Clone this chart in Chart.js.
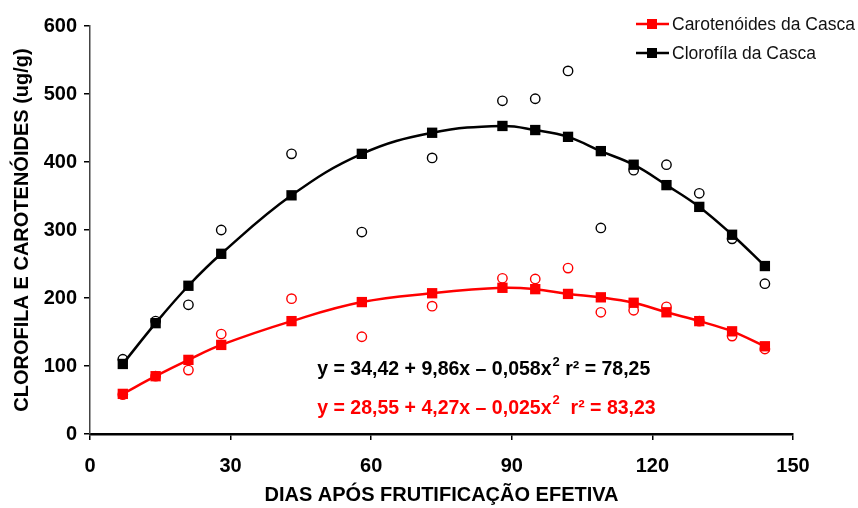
<!DOCTYPE html>
<html>
<head>
<meta charset="utf-8">
<script src="https://cdn.jsdelivr.net/npm/chart.js@4/dist/chart.umd.min.js"></script>
<style>
  html, body { margin: 0; padding: 0; background: #fff; }
  #wrap { width: 858px; height: 508px; }
</style>
</head>
<body>
<div id="wrap"><canvas id="chart"></canvas></div>
<script>
const days = [7, 14, 21, 28, 43, 58, 73, 88, 95, 102, 109, 116, 123, 130, 137, 144];
const chlFit = [103, 163, 218, 265, 351, 412, 443, 453, 447, 437, 416, 396, 366, 334, 293, 247];
const chlObs = [110, 166, 190, 300, 412, 297, 406, 490, 493, 534, 303, 388, 396, 354, 287, 221];
const carFit = [59, 85, 109, 131, 166, 194, 207, 215, 213, 206, 201, 193, 179, 166, 151, 129];
const carObs = [58, 85, 94, 147, 199, 143, 188, 229, 228, 244, 179, 182, 187, 166, 144, 125];
const xTicks = [0, 30, 60, 90, 120, 150];
const yTicks = [0, 100, 200, 300, 400, 500, 600];
const seriesNames = ['Carotenóides da Casca', 'Clorofíla da Casca'];

const FONT = '"Liberation Sans", Arial, sans-serif';
const RED = '#ff0000';
const BLACK = '#000000';

const pts = vals => days.map((d, i) => ({ x: d, y: vals[i] }));

function fitSet(label, vals, color) {
    return {
        label,
        data: pts(vals),
        showLine: true,
        borderColor: color,
        backgroundColor: color,
        borderWidth: 2.5,
        tension: 0.4,
        pointStyle: 'rect',
        pointRadius: 7.3,
        pointBorderWidth: 0,
        pointBackgroundColor: color
    };
}

function obsSet(label, vals, color) {
    return {
        label,
        data: pts(vals),
        showLine: false,
        pointStyle: 'circle',
        pointRadius: 4.7,
        pointBorderWidth: 1.4,
        pointBorderColor: color,
        pointBackgroundColor: 'rgba(0,0,0,0)'
    };
}

// legend in the top right corner
const legendPlugin = {
    id: 'cornerLegend',
    afterDraw(chart) {
        const ctx = chart.ctx;
        const rows = [
            { text: seriesNames[0], color: RED, y: 24 },
            { text: seriesNames[1], color: BLACK, y: 53 }
        ];
        ctx.save();
        rows.forEach(r => {
            ctx.strokeStyle = r.color;
            ctx.lineWidth = 2.5;
            ctx.beginPath();
            ctx.moveTo(636, r.y);
            ctx.lineTo(669, r.y);
            ctx.stroke();
            ctx.fillStyle = r.color;
            ctx.fillRect(647, r.y - 5, 10, 10);
            ctx.fillStyle = '#111';
            ctx.font = '17.5px ' + FONT;
            ctx.textBaseline = 'middle';
            ctx.textAlign = 'left';
            ctx.fillText(r.text, 672, r.y + 1);
        });
        ctx.restore();
    }
};

// regression equations
const equationPlugin = {
    id: 'equations',
    afterDraw(chart) {
        const ctx = chart.ctx;
        const xs = chart.scales.x, ys = chart.scales.y;
        const lines = [
            { parts: ['y = 34,42 + 9,86x \u2013 0,058x', '2', ' r\u00b2 = 78,25'], color: BLACK, v: 94 },
            { parts: ['y = 28,55 + 4,27x \u2013 0,025x', '2', '  r\u00b2 = 83,23'], color: RED, v: 38 }
        ];
        ctx.save();
        ctx.textBaseline = 'middle';
        ctx.textAlign = 'left';
        lines.forEach(l => {
            let x = xs.getPixelForValue(48.5);
            const y = ys.getPixelForValue(l.v);
            ctx.fillStyle = l.color;
            ctx.font = 'bold 19.5px ' + FONT;
            ctx.fillText(l.parts[0], x, y);
            x += ctx.measureText(l.parts[0]).width + 1;
            ctx.font = 'bold 13px ' + FONT;
            ctx.fillText(l.parts[1], x, y - 8);
            x += ctx.measureText(l.parts[1]).width;
            ctx.font = 'bold 19.5px ' + FONT;
            ctx.fillText(l.parts[2], x, y);
        });
        ctx.restore();
    }
};

const axisGrid = { drawOnChartArea: false, drawTicks: true, tickLength: 6, color: BLACK, lineWidth: 1.5 };
const tickFont = { family: FONT, size: 20, weight: 'bold' };
const titleFont = { family: FONT, size: 20, weight: 'bold' };

new Chart(document.getElementById('chart'), {
    type: 'scatter',
    data: {
        datasets: [
            fitSet(seriesNames[0], carFit, RED),
            fitSet(seriesNames[1], chlFit, BLACK),
            obsSet('obs car', carObs, RED),
            obsSet('obs chl', chlObs, BLACK)
        ]
    },
    options: {
        responsive: true,
        maintainAspectRatio: false,
        animation: false,
        devicePixelRatio: 1,
        layout: { padding: { top: 26, right: 65, left: 0, bottom: 0 } },
        plugins: {
            legend: { display: false },
            tooltip: { enabled: false }
        },
        scales: {
            x: {
                type: 'linear',
                min: 0,
                max: 150,
                afterBuildTicks: s => { s.ticks = xTicks.map(v => ({ value: v })); },
                afterFit: s => { s.height = 74; },
                ticks: { color: BLACK, font: tickFont, padding: 14, maxRotation: 0 },
                grid: axisGrid,
                border: { color: BLACK, width: 2.5 },
                title: {
                    display: true,
                    text: 'DIAS APÓS FRUTIFICAÇÃO EFETIVA',
                    color: BLACK,
                    font: titleFont,
                    padding: { top: 0, bottom: 1 }
                }
            },
            y: {
                min: 0,
                max: 600,
                afterBuildTicks: s => { s.ticks = yTicks.map(v => ({ value: v })); },
                afterFit: s => { s.width = 90; },
                ticks: { color: BLACK, font: tickFont, padding: 7 },
                grid: axisGrid,
                border: { color: '#444', width: 1.5 },
                title: {
                    display: true,
                    text: 'CLOROFILA E CAROTENÓIDES (ug/g)',
                    color: BLACK,
                    font: titleFont,
                    padding: { top: 10, bottom: 4 }
                }
            }
        }
    },
    plugins: [legendPlugin, equationPlugin]
});
</script>
</body>
</html>
